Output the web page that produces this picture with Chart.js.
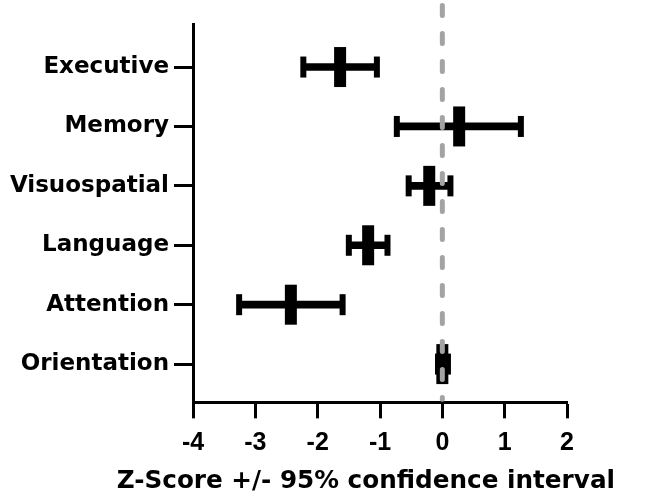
<!DOCTYPE html>
<html>
<head>
<meta charset="utf-8">
<script src="https://cdn.jsdelivr.net/npm/chart.js@4.4.1/dist/chart.umd.min.js"></script>
<style>
  html, body { margin: 0; padding: 0; background: #fff; }
  #wrap { width: 645px; height: 500px; position: relative; }
</style>
</head>
<body>
<div id="wrap"><canvas id="c" width="645" height="500"></canvas></div>
<script>
// ---- data ----
const categories = ['Executive', 'Memory', 'Visuospatial', 'Language', 'Attention', 'Orientation'];
const means = [-1.64, 0.27, -0.21, -1.19, -2.43, 0.00];
const lower = [-2.23, -0.73, -0.54, -1.50, -3.26, -0.07];
const upper = [-1.05, 1.26, 0.13, -0.88, -1.60, 0.09];
const xTickValues = [-4, -3, -2, -1, 0, 1, 2];
const referenceValue = 0;
const axisTitle = 'Z-Score +/- 95% confidence interval';

const ciBars = categories.map((c, i) => ({ x: [lower[i], upper[i]], y: i }));
const capPoints = categories.map((c, i) => ({ x: lower[i], y: i }))
  .concat(categories.map((c, i) => ({ x: upper[i], y: i })));
const meanPoints = categories.map((c, i) => ({ x: means[i], y: i }));

const zeroLine = {
  id: 'zeroLine',
  afterDatasetsDraw(chart) {
    const { ctx, chartArea } = chart;
    const px = chart.scales.x.getPixelForValue(referenceValue);
    ctx.save();
    ctx.strokeStyle = '#a3a3a3';
    ctx.lineWidth = 5;
    ctx.lineCap = 'round';
    ctx.setLineDash([10, 18]);
    ctx.beginPath();
    ctx.moveTo(px, chartArea.top - 18.5);
    ctx.lineTo(px, chartArea.bottom - 3);
    ctx.stroke();
    ctx.restore();
  }
};

new Chart(document.getElementById('c'), {
  type: 'scatter',
  data: {
    datasets: [
      {
        type: 'scatter',
        data: meanPoints,
        order: 0,
        pointStyle: 'line',
        rotation: 90,
        radius: 20,
        borderWidth: 12,
        borderColor: '#000',
        backgroundColor: '#000',
        clip: false
      },
      {
        type: 'scatter',
        data: capPoints,
        order: 1,
        pointStyle: 'line',
        rotation: 90,
        radius: 10.5,
        borderWidth: 6,
        borderColor: '#000',
        backgroundColor: '#000',
        clip: false
      },
      {
        type: 'bar',
        indexAxis: 'y',
        data: ciBars,
        order: 2,
        barThickness: 7,
        backgroundColor: '#000',
        borderWidth: 0
      }
    ]
  },
  options: {
    responsive: false,
    animation: false,
    events: [],
    layout: { autoPadding: false, padding: { left: 0, right: 30, top: 24, bottom: 0 } },
    plugins: {
      legend: { display: false },
      tooltip: { enabled: false },
      title: {
        display: true,
        position: 'bottom',
        align: 'end',
        text: axisTitle,
        color: '#000',
        font: { family: 'DejaVu Sans', weight: 'bold', size: 24.7, lineHeight: 1.2 },
        padding: { top: 4, bottom: 4 }
      }
    },
    scales: {
      x: {
        type: 'linear',
        min: -4,
        max: 2,
        offset: false,
        afterBuildTicks: (s) => { s.ticks = xTickValues.map(v => ({ value: v })); },
        afterFit: (s) => { s.height = 60; s.paddingLeft = 0; s.paddingRight = 0; },
        ticks: {
          color: '#000',
          padding: 10,
          font: { family: 'Liberation Sans', weight: 'bold', size: 25 },
          callback: (v) => String(v)
        },
        grid: { drawOnChartArea: false, drawTicks: true, tickLength: 16, tickWidth: 3, tickColor: '#000', offset: false },
        border: { display: true, color: '#000', width: 3 }
      },
      y: {
        type: 'linear',
        position: 'left',
        reverse: true,
        min: -0.7245,
        max: 5.644,
        offset: false,
        afterBuildTicks: (s) => { s.ticks = categories.map((c, i) => ({ value: i })); },
        afterFit: (s) => { s.width = 193; s.paddingTop = 0; s.paddingBottom = 0; },
        ticks: {
          color: '#000',
          padding: 5,
          font: { family: 'DejaVu Sans', weight: 'bold', size: 23 },
          callback: (v) => categories[v]
        },
        grid: { drawOnChartArea: false, drawTicks: true, tickLength: 19, tickWidth: 3, tickColor: '#000', offset: false },
        border: { display: true, color: '#000', width: 3 }
      },
      // empty right-hand spacer so the chart area ends at the reference's right edge
      yRight: {
        type: 'linear',
        position: 'right',
        display: true,
        afterFit: (s) => { s.width = 48; s.paddingTop = 0; s.paddingBottom = 0; },
        ticks: { display: false },
        grid: { display: false },
        border: { display: false }
      }
    }
  },
  plugins: [zeroLine]
});
</script>
</body>
</html>
